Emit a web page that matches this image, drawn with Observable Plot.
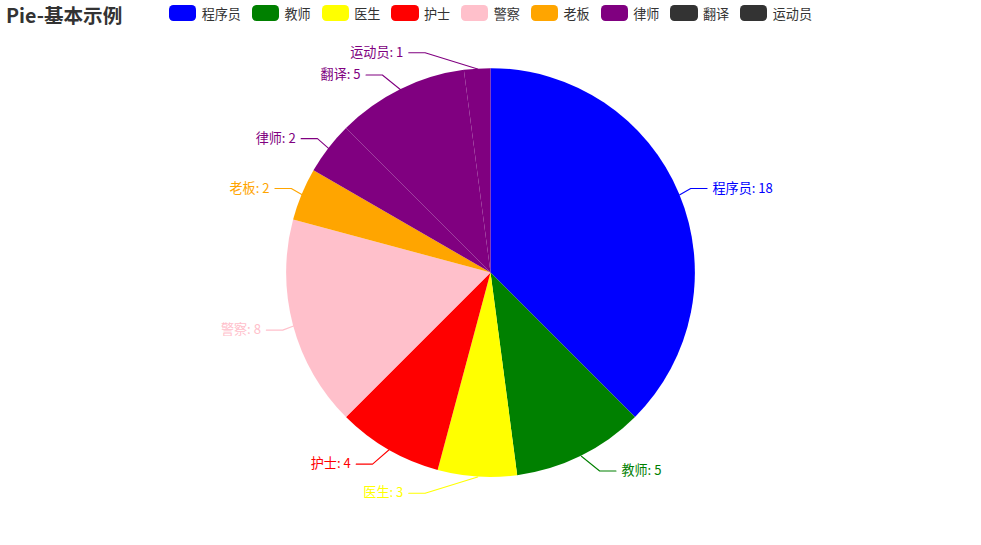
<!DOCTYPE html>
<html>
<head>
<meta charset="utf-8">
<script src="https://cdn.jsdelivr.net/npm/d3@7"></script>
<script src="https://cdn.jsdelivr.net/npm/@observablehq/plot@0.6"></script>
<style>
  html, body { margin: 0; padding: 0; background: #fff; overflow: hidden; }
  #wrap { position: relative; width: 981px; height: 545px; font-family: "Noto Sans CJK SC", "Noto Sans", sans-serif; }
  #header { position: relative; width: 981px; height: 30px; }
  #title { position: absolute; left: 6px; top: 4px; font-size: 19.6px; font-weight: bold; color: #333; line-height: 1.1; white-space: nowrap; }
  #legend { position: absolute; left: 0; top: 5.45px; width: 981px; display: flex; justify-content: center; gap: 10.9px; }
  .item { display: flex; align-items: center; height: 15.26px; font-size: 13.08px; color: #333; white-space: nowrap; }
  .icon { width: 27.25px; height: 15.26px; border-radius: 4.4px; margin-right: 5.45px; }
  #chart svg { display: block; }
</style>
</head>
<body>
<div id="wrap">
  <div id="header"><div id="title"></div><div id="legend"></div></div>
  <div id="chart"></div>
</div>
<script>
// ---- data ----
const titleText = "Pie-基本示例";
const names = ["程序员", "教师", "医生", "护士", "警察", "老板", "律师", "翻译", "运动员"];
const values = [18, 5, 3, 4, 8, 2, 2, 5, 1];
const sliceColors = ["blue", "green", "yellow", "red", "pink", "orange", "purple", "purple", "purple"];
const legendColors = ["blue", "green", "yellow", "red", "pink", "orange", "purple", "#333", "#333"];

// ---- layout (in ECharts 900x500 units, scaled by Plot's scales) ----
const W = 900, H = 500;
const CX = W / 2, CY = H / 2;
const R = Math.min(W, H) / 2 * 0.75;
const LEN = 15, LEN2 = 15, DIST = 5, TEXT_H = 17;

const data = names.map((name, i) => ({name, value: values[i]}));
const arcs = d3.pie().sort(null).value(d => d.value)(data);

const items = arcs.map(a => {
  const mid = (a.startAngle + a.endAngle) / 2;
  const dx = Math.sin(mid), dy = -Math.cos(mid);
  const dir = dx < 0 ? -1 : 1;
  const x1 = CX + R * dx, y1 = CY + R * dy;
  const x2 = CX + (R + LEN) * dx, y2 = CY + (R + LEN) * dy;
  const x3 = x2 + dir * LEN2;
  return {name: a.data.name, value: a.data.value, dir, x1, y1, x: x3 + dir * DIST, y: y2};
});

function adjustSide(list, dir) {
  list.sort((a, b) => a.y - b.y);
  let lastY = -Infinity;
  for (const it of list) {
    if (it.y < lastY) it.y = lastY;
    lastY = it.y + TEXT_H;
  }
  const up = list.filter(d => d.y < CY), down = list.filter(d => d.y >= CY);
  const changeX = (lst, isDown) => {
    let last = isDown ? Number.MAX_VALUE : 0;
    for (const it of lst) {
      const dY = Math.abs(it.y - CY);
      let dX = dY < R + LEN
        ? Math.sqrt((R + LEN + LEN2) ** 2 - dY * dY)
        : Math.abs(it.x - CX);
      if (isDown && dX >= last) dX = last - 10;
      if (!isDown && dX <= last) dX = last + 10;
      it.x = CX + dX * dir;
      last = dX;
    }
  };
  changeX(up, false);
  changeX(down, true);
}
adjustSide(items.filter(d => d.dir > 0), 1);
adjustSide(items.filter(d => d.dir < 0), -1);

const linePts = [];
for (const it of items) {
  const end = it.x - it.dir * DIST;
  const midX = end - it.dir * LEN2;
  linePts.push({name: it.name, x: it.x1, y: it.y1});
  linePts.push({name: it.name, x: midX, y: it.y});
  linePts.push({name: it.name, x: end, y: it.y});
}
const labels = items.map(it => ({...it, text: `${it.name}: ${it.value}`}));

// ---- header ----
document.getElementById("title").textContent = titleText;
const legend = document.getElementById("legend");
names.forEach((n, i) => {
  const item = document.createElement("div");
  item.className = "item";
  const ic = document.createElement("div");
  ic.className = "icon";
  ic.style.background = legendColors[i];
  const tx = document.createElement("span");
  tx.textContent = n;
  item.appendChild(ic); item.appendChild(tx);
  legend.appendChild(item);
});

// ---- chart ----
const FONT = "Noto Sans CJK SC, Noto Sans, sans-serif";
const colorMap = new Map(names.map((n, i) => [n, sliceColors[i]]));
const slices = (index, scales) => {
  const sx = scales.x, sy = scales.y;
  const color = scales.color ? scales.color : (n => colorMap.get(n));
  const rpx = sx(R) - sx(0);
  const arcGen = d3.arc().innerRadius(0).outerRadius(rpx);
  const g = d3.create("svg:g").attr("transform", `translate(${sx(CX)},${sy(CY)})`);
  g.selectAll("path").data(arcs).join("path")
    .attr("d", arcGen)
    .attr("fill", d => color(d.data.name));
  return g.node();
};

const plot = Plot.plot({
  width: 981,
  height: 515,
  margin: 0,
  style: {fontFamily: FONT, background: "white", overflow: "visible"},
  x: {domain: [0, W], range: [0, 981], axis: null},
  y: {domain: [0, H], range: [-30, 515], axis: null},
  color: {type: "ordinal", domain: names, range: sliceColors},
  marks: [
    slices,
    Plot.line(linePts, {x: "x", y: "y", z: "name", stroke: "name", strokeWidth: 1.09}),
    Plot.text(labels.filter(d => d.dir > 0), {x: "x", y: "y", text: "text", fill: "name", textAnchor: "start", fontSize: 13.08, fontFamily: FONT}),
    Plot.text(labels.filter(d => d.dir < 0), {x: "x", y: "y", text: "text", fill: "name", textAnchor: "end", fontSize: 13.08, fontFamily: FONT})
  ]
});
document.getElementById("chart").appendChild(plot);
</script>
</body>
</html>
